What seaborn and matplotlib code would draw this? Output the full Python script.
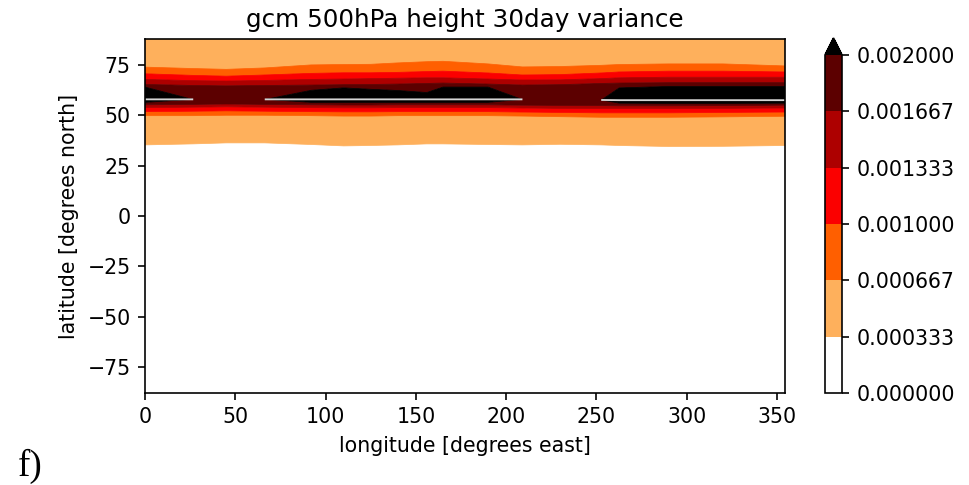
import numpy as np
import matplotlib
matplotlib.use("Agg")
import matplotlib.pyplot as plt
from matplotlib.colors import ListedColormap
import seaborn as sns

# ---------------------------------------------------------------------------
# 500 hPa height variance: band-edge latitudes (degrees north) sampled along
# a set of longitude columns, from the southern edge of the field to the north.
# ---------------------------------------------------------------------------
levels = np.linspace(0.0, 0.002, 7)

col_lon = [0, 26.7, 45, 66.3, 92, 110, 125, 140, 156, 165, 190, 209,
           230, 252.6, 262.6, 290, 320, 354.375]

lat_south = -87.86
lat_north = 87.86

edge_1_s = [35.3, 35.8, 36.3, 36.3, 35.5, 34.8, 35.0, 35.3, 35.8, 35.8,
            35.5, 35.3, 35.6, 35.3, 35.0, 34.5, 34.6, 35.0]
edge_2_s = [49.8, 49.8, 50.0, 50.0, 49.8, 49.6, 49.6, 49.8, 49.8, 49.8,
            49.8, 49.6, 49.3, 49.0, 49.0, 49.0, 49.2, 49.5]
edge_3_s = [51.8, 52.0, 52.2, 52.0, 51.8, 51.7, 51.7, 51.8, 51.8, 51.8,
            51.8, 51.6, 51.4, 51.2, 51.2, 51.2, 51.4, 51.6]
edge_4_s = [53.8, 54.0, 54.2, 54.0, 53.8, 53.7, 53.7, 53.8, 53.8, 53.8,
            53.8, 53.6, 53.4, 53.3, 53.3, 53.3, 53.4, 53.6]
edge_5_s = [55.2, 55.4, 55.6, 55.4, 55.2, 55.1, 55.1, 55.2, 55.2, 55.2,
            55.2, 55.0, 54.9, 54.8, 54.7, 54.7, 54.8, 55.0]
core_lo = [56.4, 57.2, 56.8, 57.2, 56.4, 56.4, 56.4, 56.4, 56.4, 56.4,
           56.4, 57.2, 56.5, 57.0, 56.0, 55.9, 55.9, 56.0]
core_lat = [57.9, 57.9, 57.9, 57.9, 57.9, 57.9, 57.9, 57.9, 57.9, 57.9,
            57.9, 57.9, 57.8, 57.6, 57.5, 57.5, 57.5, 57.5]
core_hi = [64.0, 58.5, 59.0, 58.5, 62.4, 63.6, 62.9, 62.3, 61.3, 64.0,
           64.0, 58.5, 59.0, 58.2, 63.6, 64.3, 64.3, 64.3]
edge_5_n = [65.3, 64.8, 64.6, 64.8, 65.0, 65.2, 65.3, 65.5, 65.8, 66.0,
            65.5, 65.0, 65.2, 65.8, 66.0, 66.2, 66.2, 66.2]
edge_4_n = [67.8, 67.2, 67.0, 67.3, 67.8, 68.0, 68.2, 68.4, 68.6, 68.6,
            68.0, 67.5, 67.6, 68.2, 68.6, 68.9, 68.9, 68.9]
edge_3_n = [70.6, 69.8, 69.4, 70.0, 70.8, 71.1, 71.1, 71.3, 71.7, 71.9,
            71.0, 70.0, 70.2, 71.0, 71.5, 71.9, 71.9, 71.5]
edge_2_n = [73.9, 73.2, 72.8, 73.5, 75.0, 75.2, 75.3, 76.0, 76.6, 76.8,
            75.5, 74.0, 74.2, 74.8, 75.2, 75.5, 75.5, 74.5]

# variance on the core rim and along the core line of each column
core_rim = [0.002, 0.00199, 0.0018, 0.00199, 0.002, 0.002, 0.002, 0.002,
            0.002, 0.002, 0.002, 0.00199, 0.0018, 0.00199, 0.002, 0.002,
            0.002, 0.002]
core_peak = [0.0026, 0.00199, 0.0018, 0.00199, 0.0026, 0.0026, 0.0026,
             0.0026, 0.0026, 0.0026, 0.0026, 0.00199, 0.0018, 0.00199,
             0.0026, 0.0026, 0.0026, 0.0026]
north_value = 0.0005

band_colors = ["#ffffff", "#feb05c", "#ff5f00", "#fb0000", "#ad0000", "#5c0000"]
over_color = "#000000"
seam_color = "#d4d4d4"

# ---------------------------------------------------------------------------
# curvilinear mesh: each row follows one band edge across the columns
# ---------------------------------------------------------------------------
n_col = len(col_lon)
lat_rows = [
    [lat_south] * n_col, edge_1_s, edge_2_s, edge_3_s, edge_4_s, edge_5_s,
    core_lo, core_lat, core_hi,
    edge_5_n, edge_4_n, edge_3_n, edge_2_n, [lat_north] * n_col,
]
val_rows = [
    [levels[0]] * n_col, [levels[1]] * n_col, [levels[2]] * n_col,
    [levels[3]] * n_col, [levels[4]] * n_col, [levels[5]] * n_col,
    core_rim, core_peak, core_rim,
    [levels[5]] * n_col, [levels[4]] * n_col, [levels[3]] * n_col,
    [levels[2]] * n_col, [north_value] * n_col,
]
Y = np.array(lat_rows, dtype=float)
# nudge nodes off the contour levels so band polygons share clean edges
Z = np.array(val_rows, dtype=float) + 1e-8
X = np.tile(np.array(col_lon, dtype=float), (Y.shape[0], 1))

# ---------------------------------------------------------------------------
sns.set_theme(style="ticks", context="notebook")
plt.rcParams.update({
    "font.family": ["DejaVu Sans"],
    "font.size": 10,
    "axes.titlesize": 12,
    "axes.labelsize": 10,
    "xtick.labelsize": 10,
    "ytick.labelsize": 10,
    "axes.linewidth": 0.8,
    "axes.edgecolor": "black",
    "xtick.color": "black",
    "ytick.color": "black",
    "xtick.major.width": 0.8,
    "ytick.major.width": 0.8,
    "xtick.major.size": 3.5,
    "ytick.major.size": 3.5,
    "text.color": "black",
    "axes.labelcolor": "black",
})

W, H, DPI = 969, 485, 148
fig = plt.figure(figsize=(W / DPI, H / DPI), dpi=DPI)
fig.patch.set_facecolor("white")

ax = fig.add_axes([145 / W, 1 - 393 / H, 640 / W, 354 / H])
cax = fig.add_axes([825 / W, 1 - 393 / H, 17 / W, 355 / H])

cmap = ListedColormap(band_colors)
cmap.set_over(over_color)

cs = ax.contourf(X, Y, Z, levels=levels, cmap=cmap, extend="max",
                 antialiased=True)
# paint band outlines in their own fill colour to hide hairline gaps
cs.set_edgecolor("face")
cs.set_linewidth(0.35)

# thin seam running along the core of the over-threshold region
core_peak_arr = np.array(core_peak)
seam = np.where(core_peak_arr >= 0.00199, np.array(core_lat), np.nan)
ax.plot(col_lon, seam, color=seam_color, lw=0.9, solid_capstyle="butt")

ax.set_xlim(0, 354.375)
ax.set_ylim(lat_south, lat_north)
ax.set_xticks(np.arange(0, 351, 50))
ax.set_yticks(np.arange(-75, 76, 25))
ax.set_title("gcm 500hPa height 30day variance")
ax.set_xlabel("longitude [degrees east]")
ax.set_ylabel("latitude [degrees north]")

cb = fig.colorbar(cs, cax=cax, ticks=levels, format="%.6f")
cb.outline.set_edgecolor("black")
cb.outline.set_linewidth(0.8)

fig.text(18 / W, 1 - 476 / H, "f)", family=["Liberation Serif", "DejaVu Serif"],
         fontsize=18, color="black")

fig.savefig("out.png", dpi=DPI, facecolor="white")
